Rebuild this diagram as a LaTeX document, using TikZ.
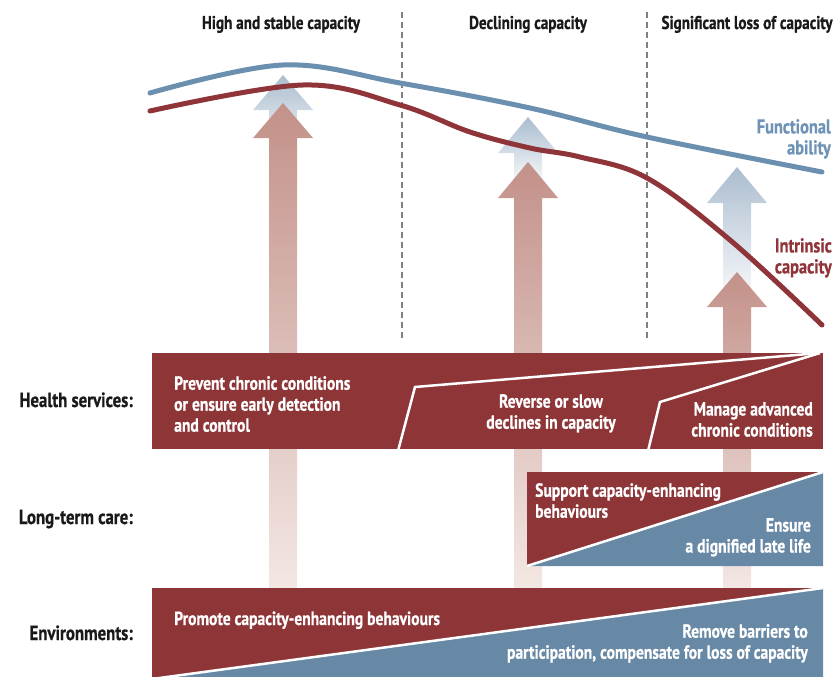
\documentclass[tikz,border=0pt]{standalone}
\usepackage{fontspec}
\setmainfont{PT Sans}[FakeStretch=0.82, BoldFeatures={FakeBold=0.6}]
\usetikzlibrary{positioning}

\definecolor{boxred}{HTML}{8E3537}
\definecolor{boxblue}{HTML}{6889A6}
\definecolor{fablue}{HTML}{6B8FAE}
\definecolor{icred}{HTML}{8F3438}
\definecolor{arrred}{HTML}{C39189}
\definecolor{arrredlt}{HTML}{F3E7E4}
\definecolor{arrblue}{HTML}{ABBDCF}
\definecolor{arrbluelt}{HTML}{F4F6F9}
\definecolor{sideblue}{HTML}{6E93B5}

\begin{document}
\begin{tikzpicture}[x=1pt, y=-1pt]
        \tikzstyle{colhead} = [font=\bfseries\fontsize{18.5}{21}\selectfont, text=black!90, anchor=base, inner sep=0]
        \tikzstyle{rowlab} = [font=\bfseries\fontsize{20.5}{23}\selectfont, text=black!90, anchor=base east, inner sep=0]
        \tikzstyle{boxtext} = [font=\bfseries\fontsize{19}{21}\selectfont, text=white, inner sep=0]
        \tikzstyle{sidelab} = [font=\bfseries\fontsize{20}{21}\selectfont, align=right, anchor=north east, inner sep=0]
        \tikzstyle{curve} = [line width=5pt, line cap=round, smooth, tension=0.6]
        \tikzstyle{divider} = [draw=white, line width=2.5pt]
        \tikzstyle{phase} = [draw=black!50, line width=1.2pt, dash pattern=on 6pt off 4pt]

        \useasboundingbox (0,0) rectangle (835,677);

        \node [colhead] (hdstable) at (281,29) {High and stable capacity};
        \node [colhead] (hddecl) at (528,29) {Declining capacity};
        \node [colhead] (hdloss) at (747,29) {Significant loss of capacity};

        \draw [phase] (402,12) -- (402,340);
        \draw [phase] (647,12) -- (647,340);

        \foreach \cx/\tip/\hb/\bot in {283/75/110/150, 528/117/153/180, 737/167/203/290}
          \shade [top color=arrblue, bottom color=arrbluelt]
            (\cx,\tip) -- ({\cx+30},\hb) -- ({\cx+14},\hb) -- ({\cx+14},\bot)
            -- ({\cx-14},\bot) -- ({\cx-14},\hb) -- ({\cx-30},\hb) -- cycle;

        \foreach \cx/\tip/\hb in {283/103/138, 528/162/198, 737/272/307}
          \shade [top color=arrred, bottom color=arrredlt]
            (\cx,\tip) -- ({\cx+30},\hb) -- ({\cx+14},\hb) -- ({\cx+14},588)
            -- ({\cx-14},588) -- ({\cx-14},\hb) -- ({\cx-30},\hb) -- cycle;

        \draw [curve, fablue] plot coordinates {(150,93) (283,65) (400,83) (530,108) (647,137) (822,172)};
        \draw [curve, icred] plot coordinates {(150,111) (303,85) (400,105) (470,132) (530,148) (580,157) (647,178) (730,240) (822,325)};

        \node [sidelab, text=sideblue] (fability) at (831,119) {Functional\\ability};
        \node [sidelab, text=icred] (icapacity) at (832,238) {Intrinsic\\capacity};

        \fill [boxred] (152,353) rectangle (823,449);
        \draw [divider] (398,451) -- (415,387) -- (820,353);
        \draw [divider] (648,451) -- (660,402) -- (820,353);

        \fill [boxred] (527,472) rectangle (823,566);
        \fill [boxblue] (527,566) -- (823,566) -- (823,472) -- cycle;
        \draw [divider] (527,566) -- (823,472);

        \fill [boxred] (152,588) rectangle (823,677);
        \fill [boxblue] (152,679) -- (823,679) -- (823,588) -- cycle;
        \draw [divider] (152,679) -- (823,588);

        \node [rowlab] (lbhealth) at (133,407) {Health services:};
        \node [rowlab] (lbltc) at (133,524) {Long-term care:};
        \node [rowlab] (lbenv) at (133,640) {Environments:};

        \node [boxtext, anchor=north west, align=left] (txprevent) at (174,376) {Prevent chronic conditions\\or ensure early detection\\and control};
        \node [boxtext, anchor=north, align=center] (txreverse) at (551,394) {Reverse or slow\\declines in capacity};
        \node [boxtext, anchor=north east, align=right] (txmanage) at (813,402) {Manage advanced\\chronic conditions};
        \node [boxtext, anchor=north west, align=left] (txsupport) at (535,483) {Support capacity-enhancing\\behaviours};
        \node [boxtext, anchor=north east, align=right] (txensure) at (811,518) {Ensure\\a dignified late life};
        \node [boxtext, anchor=base west] (txpromote) at (174,625) {Promote capacity-enhancing behaviours};
        \node [boxtext, anchor=north east, align=right] (txremove) at (808,624) {Remove barriers to\\participation, compensate for loss of capacity};
    \end{tikzpicture}
\end{document}
